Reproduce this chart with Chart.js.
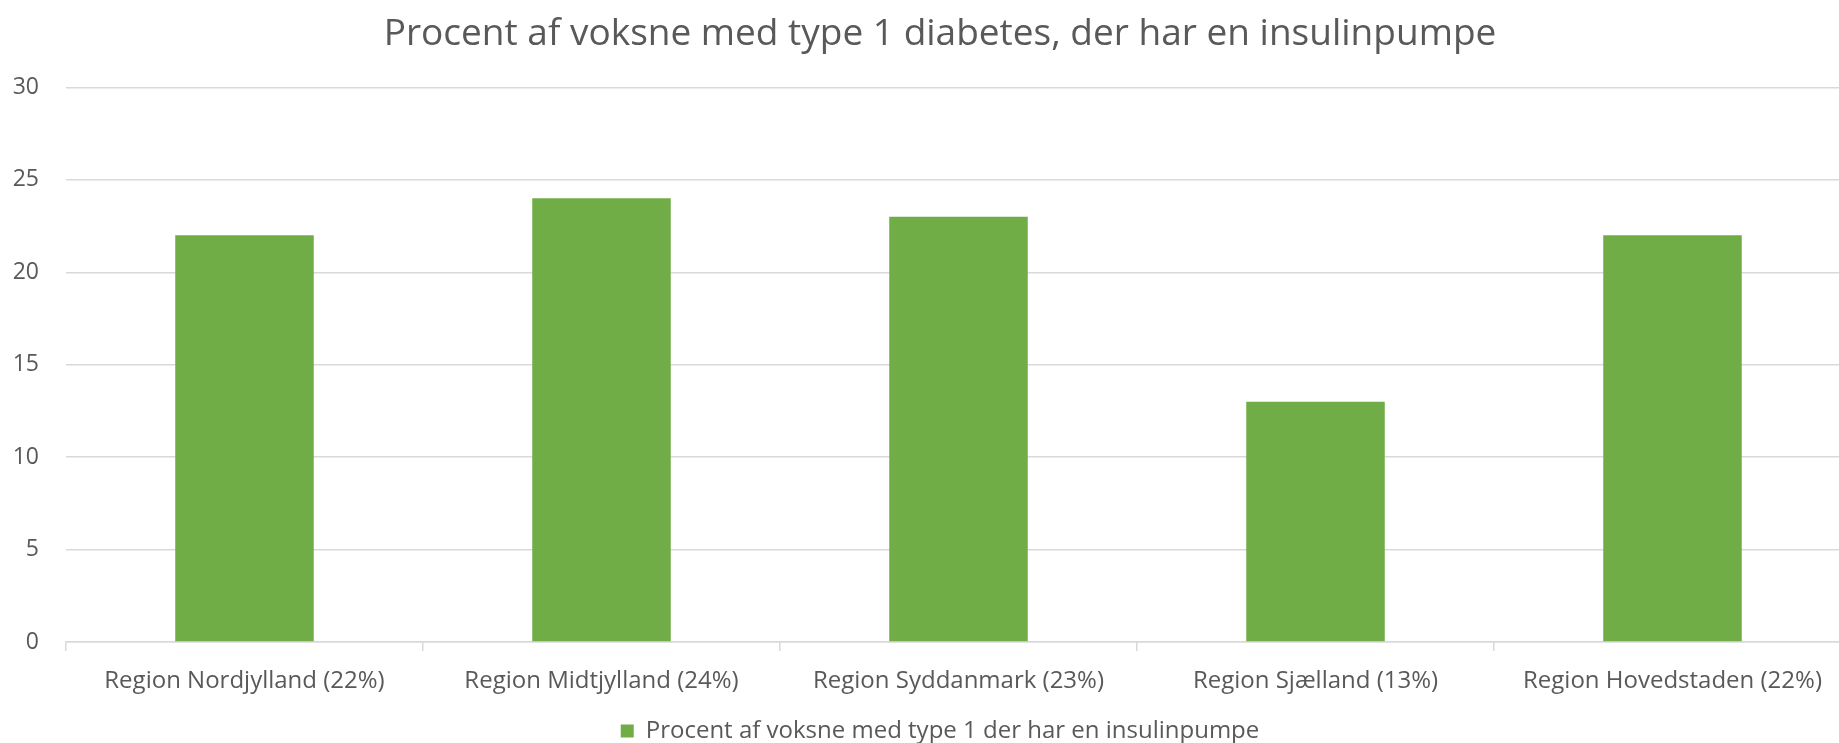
<!DOCTYPE html>
<html>
<head>
<meta charset="utf-8">
<script src="https://cdn.jsdelivr.net/npm/chart.js@4"></script>
<style>
    html, body { margin: 0; padding: 0; background: #fff; overflow: hidden; }
    #wrap { width: 1885px; height: 743px; }
</style>
</head>
<body>
<div id="wrap"><canvas id="insulinChart" width="1885" height="743"></canvas></div>
<script>
// Data
const regions = [
    "Region Nordjylland (22%)",
    "Region Midtjylland (24%)",
    "Region Syddanmark (23%)",
    "Region Sjælland (13%)",
    "Region Hovedstaden (22%)"
];
const pumpPercent = [22, 24, 23, 13, 22];
const seriesLabel = "Procent af voksne med type 1 der har en insulinpumpe";
const chartTitle = "Procent af voksne med type 1 diabetes, der har en insulinpumpe";
const yTicks = [0, 5, 10, 15, 20, 25, 30];

const textColor = '#595959';
const gridColor = '#d9d9d9';
const fontFamily = "'Open Sans', 'Noto Sans', sans-serif";

const ctx = document.getElementById('insulinChart').getContext('2d');

new Chart(ctx, {
    type: 'bar',
    data: {
        labels: regions,
        datasets: [{
            label: seriesLabel,
            data: pumpPercent,
            backgroundColor: '#70ad47',
            borderWidth: 0,
            categoryPercentage: 1,
            barPercentage: 0.388
        }]
    },
    options: {
        responsive: false,
        animation: false,
        // the plot runs a little past the right edge of the window, like the original crop
        layout: { padding: { left: 29, right: 34, top: 0, bottom: -10 } },
        plugins: {
            tooltip: { enabled: false },
            title: {
                display: true,
                text: chartTitle,
                color: textColor,
                font: { family: fontFamily, size: 37, weight: 'normal' },
                padding: { top: 12, bottom: 31 }
            },
            legend: {
                display: true,
                position: 'bottom',
                labels: {
                    color: textColor,
                    font: { family: fontFamily, size: 24 },
                    boxWidth: 13,
                    boxHeight: 13,
                    padding: 0
                }
            }
        },
        scales: {
            x: {
                offset: true,
                afterFit: scale => { scale.height = 77; },
                grid: {
                    offset: true,
                    drawOnChartArea: false,
                    drawTicks: true,
                    tickLength: 9,
                    color: gridColor,
                    lineWidth: 1.5
                },
                border: { display: true, color: gridColor, width: 1.5 },
                ticks: {
                    color: textColor,
                    font: { family: fontFamily, size: 24 },
                    padding: 16,
                    maxRotation: 0,
                    autoSkip: false
                }
            },
            y: {
                min: 0,
                max: 30,
                afterBuildTicks: scale => {
                    scale.ticks = yTicks.map(v => ({ value: v }));
                },
                afterFit: scale => {
                    scale.width = 37;
                    // labels sit in the left padding, don't clip them to the narrow axis box
                    scale._computeLabelArea = () => undefined;
                },
                grid: {
                    color: gridColor,
                    lineWidth: 1.5,
                    drawTicks: false
                },
                border: { display: false },
                ticks: {
                    color: textColor,
                    font: { family: fontFamily, size: 23 },
                    padding: 27
                }
            }
        }
    }
});
</script>
</body>
</html>
